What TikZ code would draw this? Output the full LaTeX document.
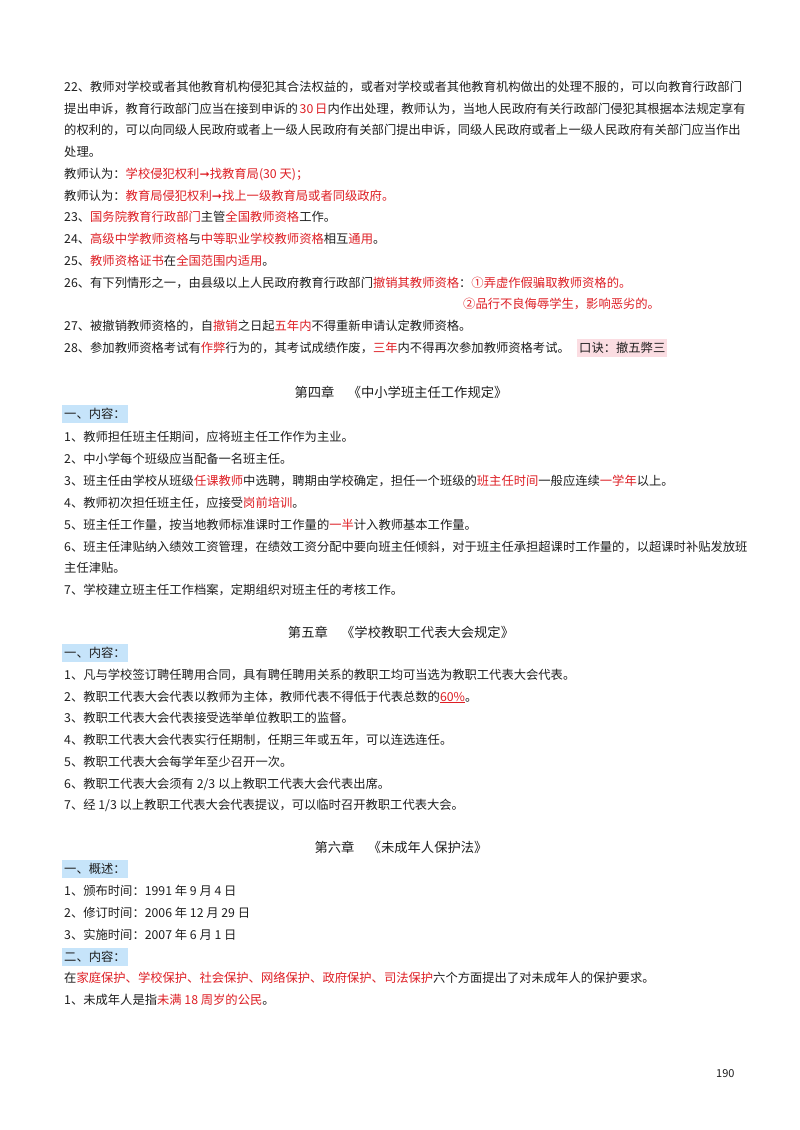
\documentclass[tikz,border=0pt]{standalone}
\usepackage{fontspec}
\setmainfont{Noto Sans CJK SC}
\newfontfamily\dv{DejaVu Sans}
\definecolor{rd}{RGB}{222,30,36}
\definecolor{hlb}{RGB}{198,228,250}
\definecolor{hlp}{RGB}{251,221,226}
\definecolor{tx}{RGB}{30,30,30}
\newcommand\rd[1]{\textcolor{rd}{#1}}
\newcommand\arr{{\dv ➞}}
\newcommand\jline[1]{\makebox[673pt][s]{#1}}
\XeTeXlinebreaklocale "zh"
\XeTeXlinebreakskip=0pt plus 3pt
\begin{document}
\begin{tikzpicture}[x=1pt,y=-1pt,
  ln/.style={anchor=west,inner sep=0pt,font=\fontsize{12.3}{21.7}\selectfont,text=tx},
  hd/.style={anchor=center,inner sep=0pt,font=\fontsize{13.3}{16}\selectfont,text=tx},
  hb/.style={anchor=west,inner xsep=2pt,inner ysep=3pt,fill=hlb,font=\fontsize{12.3}{16}\selectfont,text=tx}]
\useasboundingbox (0,0) rectangle (800,1130);
\fill[white] (0,0) rectangle (800,1130);
% block 22
\node[ln] (p22a) at (64,87) {\jline{22、教师对学校或者其他教育机构侵犯其合法权益的，或者对学校或者其他教育机构做出的处理不服的，可以向教育行政部门}};
\node[ln] (p22b) at (64,109) {\jline{提出申诉，教育行政部门应当在接到申诉的 \rd{30 日}内作出处理，教师认为，当地人民政府有关行政部门侵犯其根据本法规定享有}};
\node[ln] (p22c) at (64,130) {\jline{的权利的，可以向同级人民政府或者上一级人民政府有关部门提出申诉，同级人民政府或者上一级人民政府有关部门应当作出}};
\node[ln] (p22d) at (64,152) {处理。};
\node[ln] (t1) at (64,174) {教师认为：\rd{学校侵犯权利\arr 找教育局(30 天)；}};
\node[ln] (t2) at (64,196) {教师认为：\rd{教育局侵犯权利\arr 找上一级教育局或者同级政府。}};
\node[ln] (l23) at (64,217) {23、\rd{国务院教育行政部门}主管\rd{全国教师资格}工作。};
\node[ln] (l24) at (64,239) {24、\rd{高级中学教师资格}与\rd{中等职业学校教师资格}相互\rd{通用}。};
\node[ln] (l25) at (64,261) {25、\rd{教师资格证书}在\rd{全国范围内适用}。};
\node[ln] (l26) at (64,283) {26、有下列情形之一，由县级以上人民政府教育行政部门\rd{撤销其教师资格}：\rd{①弄虚作假骗取教师资格的。}};
\node[ln] (l26b) at (463,304) {\rd{②品行不良侮辱学生，影响恶劣的。}};
\node[ln] (l27) at (64,326) {27、被撤销教师资格的，自\rd{撤销}之日起\rd{五年内}不得重新申请认定教师资格。};
\node[ln] (l28) at (64,348) {28、参加教师资格考试有\rd{作弊}行为的，其考试成绩作废，\rd{三年}内不得再次参加教师资格考试。};
\node[hb,fill=hlp] (kj) at (577,348) {口诀：撤五弊三};
% chapter 4
\node[hd] (c4) at (401,392) {第四章\quad《中小学班主任工作规定》};
\node[hb] (c4h) at (62,414) {一、内容：};
\node[ln] (c41) at (64,437) {1、教师担任班主任期间，应将班主任工作作为主业。};
\node[ln] (c42) at (64,459) {2、中小学每个班级应当配备一名班主任。};
\node[ln] (c43) at (64,481) {3、班主任由学校从班级\rd{任课教师}中选聘，聘期由学校确定，担任一个班级的\rd{班主任时间}一般应连续\rd{一学年}以上。};
\node[ln] (c44) at (64,503) {4、教师初次担任班主任，应接受\rd{岗前培训}。};
\node[ln] (c45) at (64,525) {5、班主任工作量，按当地教师标准课时工作量的\rd{一半}计入教师基本工作量。};
\node[ln] (c46a) at (64,547) {\jline{6、班主任津贴纳入绩效工资管理，在绩效工资分配中要向班主任倾斜，对于班主任承担超课时工作量的，以超课时补贴发放班}};
\node[ln] (c46b) at (64,568) {主任津贴。};
\node[ln] (c47) at (64,590) {7、学校建立班主任工作档案，定期组织对班主任的考核工作。};
% chapter 5
\node[hd] (c5) at (401,632) {第五章\quad《学校教职工代表大会规定》};
\node[hb] (c5h) at (62,653) {一、内容：};
\node[ln] (c51) at (64,675) {1、凡与学校签订聘任聘用合同，具有聘任聘用关系的教职工均可当选为教职工代表大会代表。};
\node[ln] (c52) at (64,697) {2、教职工代表大会代表以教师为主体，教师代表不得低于代表总数的\rd{\underline{60\%}}。};
\node[ln] (c53) at (64,718) {3、教职工代表大会代表接受选举单位教职工的监督。};
\node[ln] (c54) at (64,740) {4、教职工代表大会代表实行任期制，任期三年或五年，可以连选连任。};
\node[ln] (c55) at (64,762) {5、教职工代表大会每学年至少召开一次。};
\node[ln] (c56) at (64,784) {6、教职工代表大会须有 2/3 以上教职工代表大会代表出席。};
\node[ln] (c57) at (64,805) {7、经 1/3 以上教职工代表大会代表提议，可以临时召开教职工代表大会。};
% chapter 6
\node[hd] (c6) at (401,847) {第六章\quad《未成年人保护法》};
\node[hb] (c6h) at (62,869) {一、概述：};
\node[ln] (c61) at (64,891) {1、颁布时间：1991 年 9 月 4 日};
\node[ln] (c62) at (64,913) {2、修订时间：2006 年 12 月 29 日};
\node[ln] (c63) at (64,935) {3、实施时间：2007 年 6 月 1 日};
\node[hb] (c6h2) at (62,957) {二、内容：};
\node[ln] (c64) at (64,978) {在\rd{家庭保护、学校保护、社会保护、网络保护、政府保护、司法保护}六个方面提出了对未成年人的保护要求。};
\node[ln] (c65) at (64,1000) {1、未成年人是指\rd{未满 18 周岁的公民}。};
\node[ln,font=\fontsize{11}{13}\selectfont] (pg) at (716,1074) {190};
\end{tikzpicture}
\end{document}
